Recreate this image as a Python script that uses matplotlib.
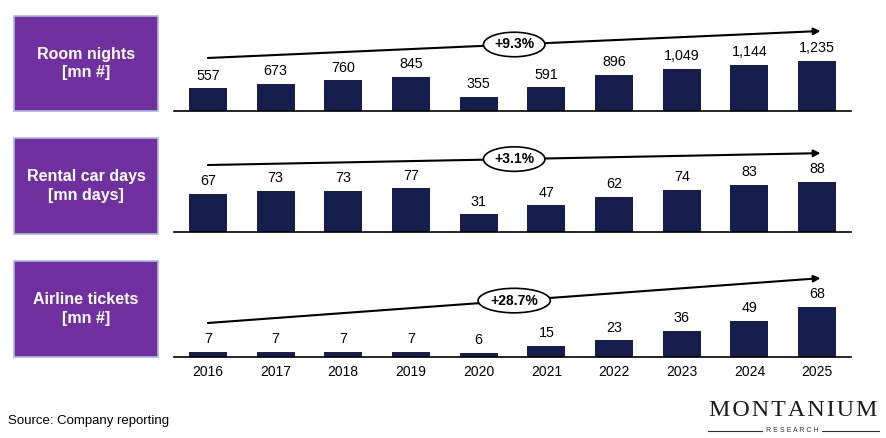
import matplotlib
matplotlib.use("Agg")
import matplotlib.pyplot as plt
from matplotlib.patches import Rectangle
from matplotlib.lines import Line2D
import matplotlib.transforms as mtransforms

plt.rcParams['font.family'] = ['Liberation Sans', 'DejaVu Sans']

years = ["2016", "2017", "2018", "2019", "2020", "2021", "2022", "2023", "2024", "2025"]
room_nights = [557, 673, 760, 845, 355, 591, 896, 1049, 1144, 1235]
rental_car_days = [67, 73, 73, 77, 31, 47, 62, 74, 83, 88]
airline_tickets = [7, 7, 7, 7, 6, 15, 23, 36, 49, 68]
panel_titles = ["Room nights\n[mn #]", "Rental car days\n[mn days]", "Airline tickets\n[mn #]"]
cagr_labels = ["+9.3%", "+3.1%", "+28.7%"]
series = [room_nights, rental_car_days, airline_tickets]

W, H = 886, 438
fig = plt.figure(figsize=(W / 100, H / 100), dpi=100)

BAR = "#161E4E"
PURPLE = "#7030A0"
BORDER = "#A9B8E8"

def fx(px):
    return px / W

def fy(py):
    return 1 - py / H

# pixel layout: (baseline_y, box_top, box_bottom, arrow_start_frac, arrow_end_frac)
layout = [
    (111, 16, 111, 0.558, 0.842),
    (232, 138, 234, 0.705, 0.83),
    (357, 261, 357, 0.358, 0.83),
]
ax_left, ax_right = 174, 851
ax_h = 95

for k, (vals, title, cagr, (base, btop, bbot, a0, a1)) in enumerate(
        zip(series, panel_titles, cagr_labels, layout)):
    ax = fig.add_axes([fx(ax_left), fy(base), (ax_right - ax_left) / W, ax_h / H])
    x = list(range(len(years)))
    ax.bar(x, vals, width=0.56, color=BAR, zorder=2)
    ax.set_xlim(-0.5, len(years) - 0.5)
    ax.set_ylim(0, max(vals) * 1.9)
    for s in ["top", "right", "left"]:
        ax.spines[s].set_visible(False)
    ax.spines["bottom"].set_color("black")
    ax.spines["bottom"].set_linewidth(1.2)
    ax.set_yticks([])
    if k == 2:
        ax.set_xticks(x)
        ax.set_xticklabels(years, fontsize=10)
        ax.tick_params(axis="x", length=0, pad=6)
    else:
        ax.set_xticks([])
    for xi, v in zip(x, vals):
        ax.annotate(f"{v:,}", (xi, v), xytext=(0, 4), textcoords="offset points",
                    ha="center", va="bottom", fontsize=10.3, color="black")
    trans = mtransforms.blended_transform_factory(ax.transData, ax.transAxes)
    ax.annotate("", xy=(9.05, a1), xytext=(0, a0), xycoords=trans, textcoords=trans,
                arrowprops=dict(arrowstyle="-|>", color="black", lw=1.5,
                                mutation_scale=10, shrinkA=0, shrinkB=0),
                annotation_clip=False)
    ax.text(4.525, (a0 + a1) / 2, cagr, transform=trans, ha="center", va="center",
            fontsize=10, fontweight="bold",
            bbox=dict(boxstyle="ellipse,pad=0.12", fc="white", ec="black", lw=1.2), zorder=5)

    # purple title box
    fig.patches.append(Rectangle((fx(14), fy(bbot)), (158 - 14) / W, (bbot - btop) / H,
                                 transform=fig.transFigure, fc=PURPLE, ec=BORDER, lw=1.2))
    fig.text(fx(86), fy((btop + bbot) / 2), title, ha="center", va="center",
             color="white", fontsize=11.5, fontweight="bold", linespacing=1.3)

fig.text(fx(8), fy(421), "Source: Company reporting", ha="left", va="center", fontsize=9.5)

# logo
fig.text(fx(793), fy(411), "\u200a".join("MONTANIUM"), ha="center", va="center",
         fontsize=17.3, family=["Liberation Serif", "DejaVu Serif"], color="#1a1a1a")
fig.text(fx(792), fy(431), "R E S E A R C H", ha="center", va="center", fontsize=5,
         color="#333333")
fig.lines.append(Line2D([fx(708), fx(762)], [fy(431), fy(431)], transform=fig.transFigure,
                        color="#333333", lw=0.8))
fig.lines.append(Line2D([fx(822), fx(879)], [fy(431), fy(431)], transform=fig.transFigure,
                        color="#333333", lw=0.8))

fig.savefig("out.png", dpi=100)
